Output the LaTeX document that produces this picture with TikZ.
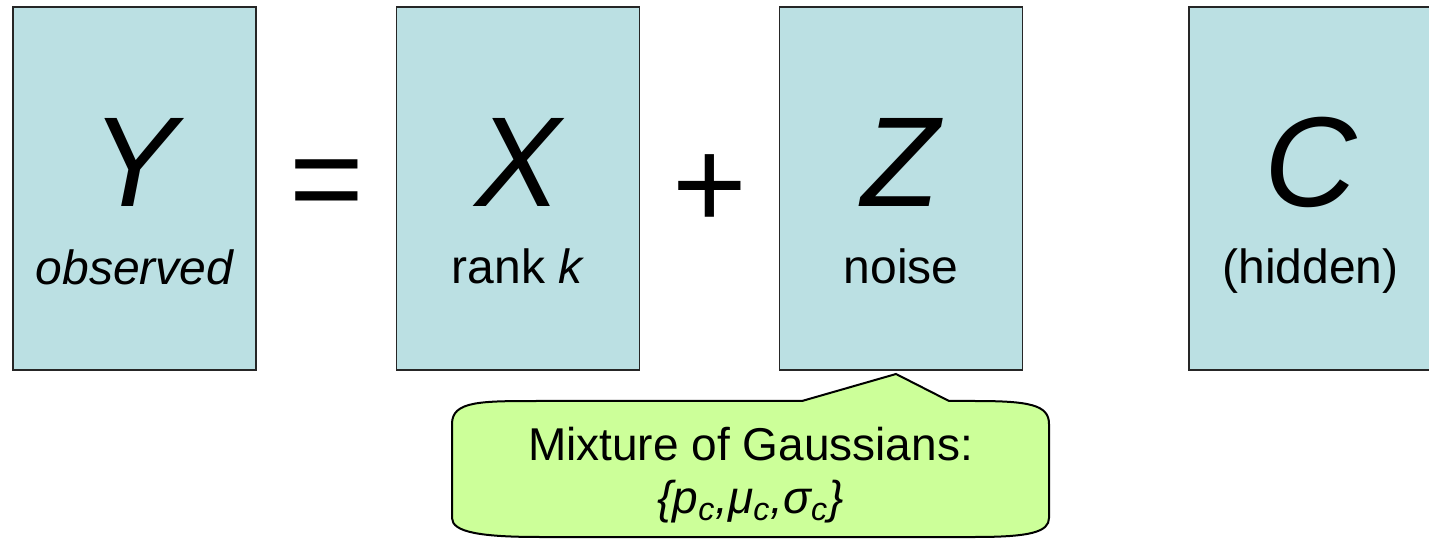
\documentclass[tikz,border=0pt]{standalone}
\usepackage{fontspec}
\setmainfont{Liberation Sans}
\definecolor{boxfill}{HTML}{BBE0E3}
\definecolor{notefill}{HTML}{CCFF99}
\begin{document}
\begin{tikzpicture}[x=0.5pt,y=-0.5pt,line width=0.75pt,every node/.style={inner sep=0pt},
  cell/.style={draw=black!85,fill=boxfill,minimum width=121.5pt,minimum height=181.5pt},
  big/.style={font=\fontsize{64}{64}\selectfont\itshape,anchor=base},
  op/.style={font=\fontsize{64}{64}\selectfont},
  lbl/.style={font=\fontsize{24}{24}\selectfont,anchor=base},
  note/.style={font=\fontsize{23}{23}\selectfont,anchor=base}]
\useasboundingbox (0,0) rectangle (1429,539);
\coordinate (tip) at (896,374);
\node[cell] (Ybox) at (134.5,188.5) {};
\node[cell] (Xbox) at (518,188.5) {};
\node[cell] (Zbox) at (901,188.5) {};
\node[cell] (Cbox) at (1310.5,188.5) {};
\node[big] (Y) at (134.5,207) {Y};
\node[big] (X) at (518,207) {X};
\node[big] (Z) at (901,207) {Z};
\node[big] (C) at (1310.5,207) {C};
\node[op] (eq) at (326.5,191.5) {=};
\node[op] (plus) at (710,191.5) {+};
\node[lbl] (obs) at (134.5,285) {\itshape observed};
\node[lbl] (rank) at (518,284) {rank \textit{k}};
\node[lbl] (noise) at (901,284) {noise};
\node[lbl] (hid) at (1310.5,284) {(hidden)};
\draw[fill=notefill,line width=1pt] (452,518) -- (452,424) .. controls (452,401) and (480,401) .. (540,401)
  -- (802,401) -- (tip) -- (949,401) -- (975,401) .. controls (1030,401) and (1049,405) .. (1049,424)
  -- (1049,518) .. controls (1049,532) and (1030,537) .. (975,537) -- (540,537)
  .. controls (480,537) and (452,532) .. (452,518) -- cycle;
\node[note] (mix) at (750.5,460) {Mixture of Gaussians:};
\node[note] (par) at (750.5,513) {\itshape\{p\textsubscript{c},μ\textsubscript{c},σ\textsubscript{c}\}};
\end{tikzpicture}
\end{document}
